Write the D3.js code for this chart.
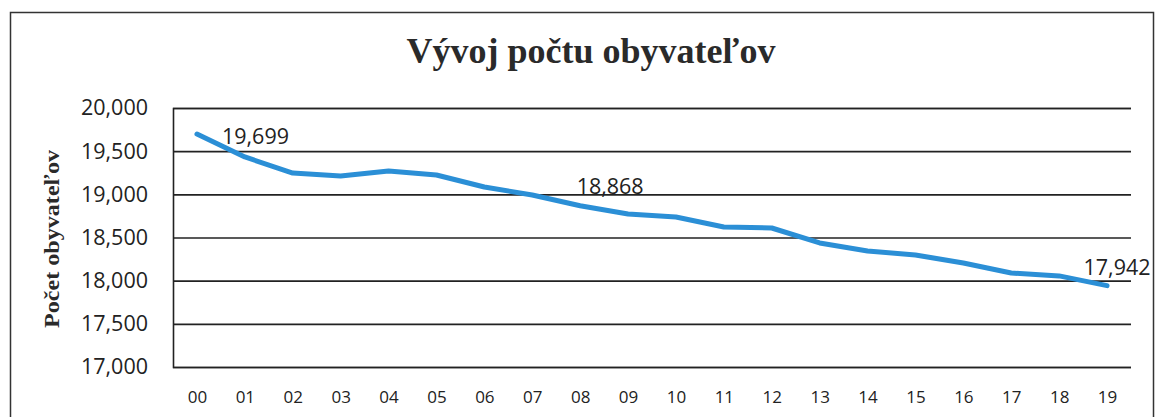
<!DOCTYPE html>
<html><head><meta charset="utf-8">
<script src="https://cdn.jsdelivr.net/npm/d3@7"></script>
<style>body{margin:0;background:#fff;}svg{display:block;}</style>
</head><body>
<svg id="c" width="1156" height="417"></svg>
<script>
const years = ["00","01","02","03","04","05","06","07","08","09","10","11","12","13","14","15","16","17","18","19"];
const population = [19699,19433,19247,19213,19270,19224,19085,18993,18868,18773,18738,18622,18610,18437,18344,18298,18205,18089,18055,17942];
const yTicks = [17000,17500,18000,18500,19000,19500,20000];
const labeledIdx = [0, 8, 19];
const title = "Vývoj počtu obyvateľov";
const yTitle = "Počet obyvateľov";

const svg = d3.select("#c");
const m = {left:173, right:1131, top:108, bottom:367};

svg.append("rect").attr("x",10.5).attr("y",12.5).attr("width",1143).attr("height",420)
  .attr("fill","none").attr("stroke","#333").attr("stroke-width",1.5);

const x = d3.scalePoint().domain(years).range([m.left, m.right]).padding(0.5);
const y = d3.scaleLinear().domain([17000,20000]).range([m.bottom, m.top]);

const gy = svg.append("g").attr("transform",`translate(${m.left},0)`)
  .call(d3.axisLeft(y).tickValues(yTicks).tickFormat(d3.format(",")).tickSize(-(m.right-m.left)).tickPadding(25));
gy.select(".domain").attr("stroke","#222").attr("stroke-width",1.6);
gy.selectAll(".tick line").attr("stroke","#222").attr("stroke-width",1.6);
gy.selectAll(".tick text").attr("font-family","Open Sans").attr("font-size",21.5).attr("fill","#222");

const gx = svg.append("g").attr("transform",`translate(0,${m.bottom})`)
  .call(d3.axisBottom(x).tickSize(0).tickPadding(24));
gx.select(".domain").remove();
gx.selectAll(".tick text").attr("font-family","Open Sans").attr("font-size",17).attr("fill","#222");

const line = d3.line().x((d,i)=>x(years[i])).y(d=>y(d));
svg.append("path").datum(population).attr("d",line).attr("fill","none")
  .attr("stroke","#2b8fd6").attr("stroke-width",5).attr("stroke-linejoin","round").attr("stroke-linecap","round");

const offs = {0:[25,10,"start"], 8:[30,-12,"middle"], 19:[10,-11,"middle"]};
svg.selectAll(".dl").data(labeledIdx).join("text").attr("class","dl")
  .attr("x",i=>x(years[i])+offs[i][0]).attr("y",i=>y(population[i])+offs[i][1])
  .attr("text-anchor",i=>offs[i][2])
  .attr("font-family","Open Sans").attr("font-size",21.5).attr("fill","#222")
  .text(i=>d3.format(",")(population[i]));

svg.append("text").attr("x",591).attr("y",63).attr("text-anchor","middle")
  .attr("font-family","Liberation Serif").attr("font-weight","bold").attr("font-size",36).attr("fill","#2a2a2a")
  .text(title);

svg.append("text").attr("transform","translate(59,239) rotate(-90)").attr("text-anchor","middle")
  .attr("font-family","Liberation Serif").attr("font-weight","bold").attr("font-size",20).attr("fill","#2a2a2a")
  .attr("textLength",178).attr("lengthAdjust","spacingAndGlyphs")
  .text(yTitle);
</script>
</body></html>
